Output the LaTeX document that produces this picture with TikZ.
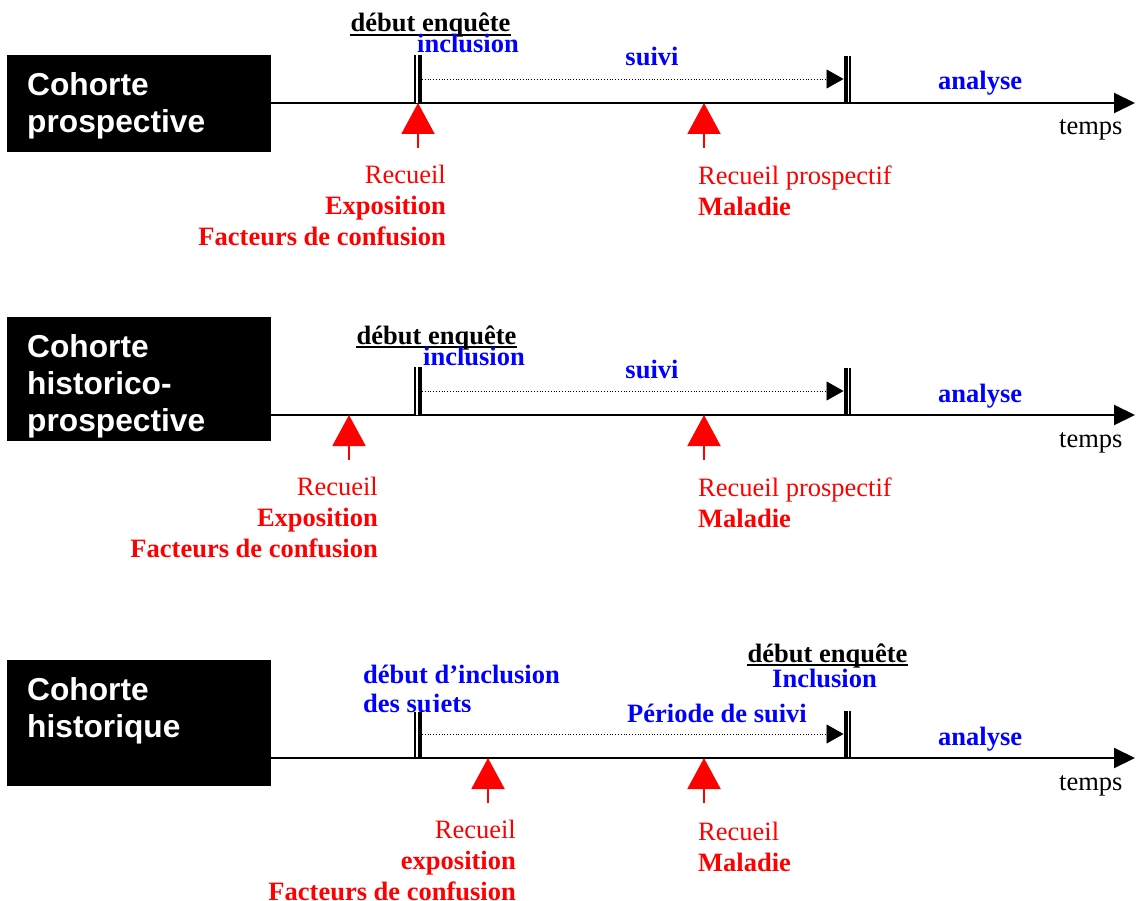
\documentclass[tikz,border=0pt]{standalone}
\usepackage{fontspec}
\setmainfont{Liberation Serif}
\newfontfamily\arialfont{Liberation Sans}
\usetikzlibrary{arrows.meta, positioning}

\begin{document}
\begin{tikzpicture}[x=1pt, y=-1pt,
    txt/.style={inner sep=0pt, font=\fontsize{26.5}{31}\selectfont},
    noir/.style={txt, font=\fontsize{26.5}{31}\selectfont\bfseries},
    bleu/.style={noir, text=blue},
    rouge/.style={txt, text=red},
    boite/.style={fill=black, inner sep=0pt, anchor=north west, minimum width=264pt},
    titre/.style={inner sep=0pt, anchor=north west, align=left, text=white,
        font=\arialfont\fontsize{31.7}{37}\selectfont\bfseries},
    axe/.style={line width=2pt, -{Triangle[length=21pt, width=20pt]}},
    duree/.style={line width=0.8pt, dotted, -{Triangle[length=17pt, width=19pt]}},
    recueil/.style={red, line width=2pt, -{Triangle[length=31pt, width=33pt]}},
    fin/.style={line width=1.5pt},
    gras/.style={line width=4pt}
]
    \useasboundingbox (0,0) rectangle (1140,901);

    % cohorte prospective
    \node[boite, minimum height=97pt] (c1) at (7,55) {};
    \node[titre] (t1) at (27,72) {Cohorte\\prospective};
    \coordinate (f1) at (1135,103);
    \draw[axe] (c1.east |- f1) -- (f1);
    \fill[white] (414,55) rectangle (422,103);
    \draw[fin] (415,55) -- (415,103);
    \draw[gras] (420,55) -- (420,103);
    \draw[gras] (845.5,56) -- (845.5,103);
    \draw[fin] (850,56) -- (850,103);
    \coordinate (s1) at (422,79);
    \coordinate (e1) at (843.5,79);
    \draw[duree] (s1) -- (e1);
    \node[noir, anchor=base] (d1) at (430.5,32) {début enquête};
    \draw[line width=1.5pt] ([yshift=-3pt]d1.base west) -- ([yshift=-3pt]d1.base east);
    \node[bleu, anchor=base west] (i1) at (417,53) {inclusion};
    \node[bleu, anchor=base] (u1) at (652,66) {suivi};
    \node[bleu, anchor=base west] (n1) at (938,90) {analyse};
    \node[txt, anchor=base west] (m1) at (1059,135) {temps};
    \coordinate (p1) at (418,148);
    \coordinate (q1) at (704,148);
    \draw[recueil] (p1) -- (p1 |- f1);
    \draw[recueil] (q1) -- (q1 |- f1);
    \node[rouge, align=right, anchor=north east] (r1) at (446,165)
        {Recueil\\\textbf{Exposition}\\\textbf{Facteurs de confusion}};
    \node[rouge, align=left, anchor=north west] (k1) at (698,166)
        {Recueil prospectif\\\textbf{Maladie}};

    % cohorte historico-prospective
    \node[boite, minimum height=124pt] (c2) at (7,317) {};
    \node[titre] (t2) at (27,334) {Cohorte\\historico-\\prospective};
    \coordinate (f2) at (1135,415);
    \draw[axe] (c2.east |- f2) -- (f2);
    \fill[white] (414,367) rectangle (422,415);
    \draw[fin] (415,367) -- (415,415);
    \draw[gras] (420,367) -- (420,415);
    \draw[gras] (845.5,368) -- (845.5,415);
    \draw[fin] (850,368) -- (850,415);
    \coordinate (s2) at (422,391);
    \coordinate (e2) at (843.5,391);
    \draw[duree] (s2) -- (e2);
    \node[noir, anchor=base] (d2) at (436.5,344) {début enquête};
    \draw[line width=1.5pt] ([yshift=-3pt]d2.base west) -- ([yshift=-3pt]d2.base east);
    \node[bleu, anchor=base west] (i2) at (423,365) {inclusion};
    \node[bleu, anchor=base] (u2) at (652,378) {suivi};
    \node[bleu, anchor=base west] (n2) at (938,402) {analyse};
    \node[txt, anchor=base west] (m2) at (1059,447) {temps};
    \coordinate (p2) at (349,460);
    \coordinate (q2) at (704,460);
    \draw[recueil] (p2) -- (p2 |- f2);
    \draw[recueil] (q2) -- (q2 |- f2);
    \node[rouge, align=right, anchor=north east] (r2) at (378,477)
        {Recueil\\\textbf{Exposition}\\\textbf{Facteurs de confusion}};
    \node[rouge, align=left, anchor=north west] (k2) at (698,478)
        {Recueil prospectif\\\textbf{Maladie}};

    % cohorte historique
    \node[boite, minimum height=126pt] (c3) at (7,660) {};
    \node[titre] (t3) at (27,677) {Cohorte\\historique};
    \node[bleu, align=left, anchor=north west, font=\fontsize{26.5}{29}\selectfont\bfseries] (i3) at (363,665)
        {début d’inclusion\\des sujets};
    \coordinate (f3) at (1135,758);
    \draw[axe] (c3.east |- f3) -- (f3);
    \fill[white] (414,712) rectangle (843,757);
    \draw[fin] (415,712) -- (415,758);
    \draw[gras] (420,712) -- (420,758);
    \draw[gras] (845.5,711) -- (845.5,758);
    \draw[fin] (850,711) -- (850,758);
    \coordinate (s3) at (422,734);
    \coordinate (e3) at (843.5,734);
    \draw[duree] (s3) -- (e3);
    \node[noir, anchor=base] (d3) at (827.5,662) {début enquête};
    \draw[line width=1.5pt] ([yshift=-3pt]d3.base west) -- ([yshift=-3pt]d3.base east);
    \node[bleu, anchor=base west] (j3) at (772,687) {Inclusion};
    \node[bleu, anchor=base west] (u3) at (627,722) {Période de suivi};
    \node[bleu, anchor=base west] (n3) at (938,745) {analyse};
    \node[txt, anchor=base west] (m3) at (1059,790) {temps};
    \coordinate (p3) at (488,803);
    \coordinate (q3) at (704,803);
    \draw[recueil] (p3) -- (p3 |- f3);
    \draw[recueil] (q3) -- (q3 |- f3);
    \node[rouge, align=right, anchor=north east] (r3) at (516,820)
        {Recueil\\\textbf{exposition}\\\textbf{Facteurs de confusion}};
    \node[rouge, align=left, anchor=north west] (k3) at (698,822)
        {Recueil\\\textbf{Maladie}};
\end{tikzpicture}
\end{document}
